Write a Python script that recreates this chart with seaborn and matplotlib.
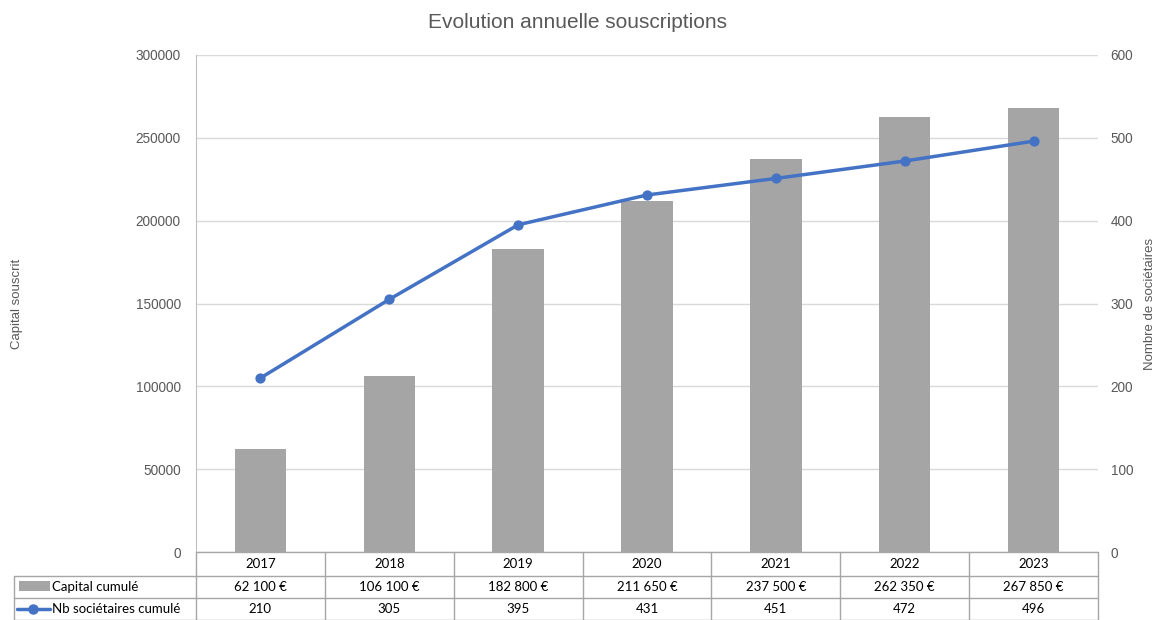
import numpy as np
import pandas as pd
import matplotlib
matplotlib.use('Agg')
import matplotlib.pyplot as plt
from matplotlib.lines import Line2D
from matplotlib.patches import Rectangle
import seaborn as sns

sns.set_style('white')
plt.rcParams['font.family'] = ['Liberation Sans', 'DejaVu Sans']

years = ['2017', '2018', '2019', '2020', '2021', '2022', '2023']
capital = [62100, 106100, 182800, 211650, 237500, 262350, 267850]
societaires = [210, 305, 395, 431, 451, 472, 496]
capital_lbls = ['62 100 €', '106 100 €', '182 800 €', '211 650 €', '237 500 €', '262 350 €', '267 850 €']

df = pd.DataFrame({'annee': years, 'capital': capital, 'nb': societaires})

BAR = '#A5A5A5'
LINE = '#4472C4'
TXT = '#595959'
GRID = '#D9D9D9'
TAB = '#A6A6A6'

W, H = 1156, 620
fig = plt.figure(figsize=(W / 100, H / 100), dpi=100)
x0, x1, y_top, y_bot = 196, 1098, 55, 552
ax = fig.add_axes([x0 / W, 1 - y_bot / H, (x1 - x0) / W, (y_bot - y_top) / H])

sns.barplot(data=df, x='annee', y='capital', color=BAR, width=0.4, ax=ax,
            saturation=1, linewidth=0)
ax.set_ylim(0, 300000)
ax.set_yticks(np.arange(0, 300001, 50000))
ax.set_yticklabels([str(v) for v in range(0, 300001, 50000)])
ax.yaxis.grid(True, color=GRID, lw=1)
ax.set_axisbelow(True)
ax.set_xlabel('')
ax.set_ylabel('Capital souscrit', color=TXT, fontsize=9.5, labelpad=0)
ax.yaxis.set_label_coords(-173 / (x1 - x0), 0.5)
ax.set_xticks([])
ax.tick_params(axis='y', colors=TXT, labelsize=9.8, length=0, pad=11)
for s in ['top', 'right', 'bottom']:
    ax.spines[s].set_visible(False)
ax.spines['left'].set_color('#BFBFBF')

ax2 = ax.twinx()
sns.pointplot(data=df, x='annee', y='nb', color=LINE, ax=ax2, markers='o',
              linewidth=2.5, markersize=5.5)
ax2.set_ylim(0, 600)
ax2.set_yticks(np.arange(0, 601, 100))
ax2.set_xlabel('')
ax2.set_ylabel('Nombre de sociétaires', color=TXT, fontsize=9.5)
ax2.yaxis.set_label_coords(1 + 46 / (x1 - x0), 0.5)
ax2.tick_params(axis='y', colors=TXT, labelsize=9.8, length=0, pad=9)
ax2.set_xticks([])
for s in ['top', 'right', 'bottom', 'left']:
    ax2.spines[s].set_visible(False)
ax.set_xlim(-0.5, len(years) - 0.5)
ax2.set_xlim(-0.5, len(years) - 0.5)

fig.text(0.5, 1 - 22 / H, 'Evolution annuelle souscriptions', ha='center', va='center',
         fontsize=15, color=TXT)

# data table below the plot
def fx(px):
    return px / W

def fy(py):
    return 1 - py / H

rows = [552, 576, 598, 620]
col_w = (x1 - x0) / len(years)
tfont = ['Lato', 'DejaVu Sans']

def hline(xa, xb, y):
    fig.add_artist(Line2D([fx(xa), fx(xb)], [fy(y), fy(y)], color=TAB, lw=1))

def vline(x, ya, yb):
    fig.add_artist(Line2D([fx(x), fx(x)], [fy(ya), fy(yb)], color=TAB, lw=1))

hline(x0, x1, rows[0])
hline(14, x1, rows[1])
hline(14, x1, rows[2])
hline(14, x1, rows[3] - 0.5)
vline(14, rows[1], rows[3])
for i in range(len(years) + 1):
    vline(x0 + i * col_w, rows[0], rows[3])

for i, yr in enumerate(years):
    cx = x0 + (i + 0.5) * col_w
    fig.text(fx(cx), fy((rows[0] + rows[1]) / 2), yr, ha='center', va='center',
             fontsize=9.5, family=tfont, color='black')
    fig.text(fx(cx), fy((rows[1] + rows[2]) / 2), capital_lbls[i], ha='center', va='center',
             fontsize=9.5, family=tfont, color='black')
    fig.text(fx(cx), fy((rows[2] + rows[3]) / 2), str(societaires[i]), ha='center', va='center',
             fontsize=9.5, family=tfont, color='black')

# legend keys in the table
fig.add_artist(Rectangle((fx(19), fy(591)), fx(50) - fx(19), fy(581) - fy(591), color=BAR, lw=0))
fig.text(fx(52), fy((rows[1] + rows[2]) / 2), 'Capital cumulé', ha='left', va='center',
         fontsize=9.5, family=tfont, color='black')
ym = (rows[2] + rows[3]) / 2
fig.add_artist(Line2D([fx(17), fx(50)], [fy(ym), fy(ym)], color=LINE, lw=2.5))
fig.add_artist(Line2D([fx(33)], [fy(ym)], color=LINE, marker='o', markersize=6.5, lw=0))
fig.text(fx(52), fy(ym), 'Nb sociétaires cumulé', ha='left', va='center',
         fontsize=9.5, family=tfont, color='black')

fig.savefig('out.png', dpi=100)
